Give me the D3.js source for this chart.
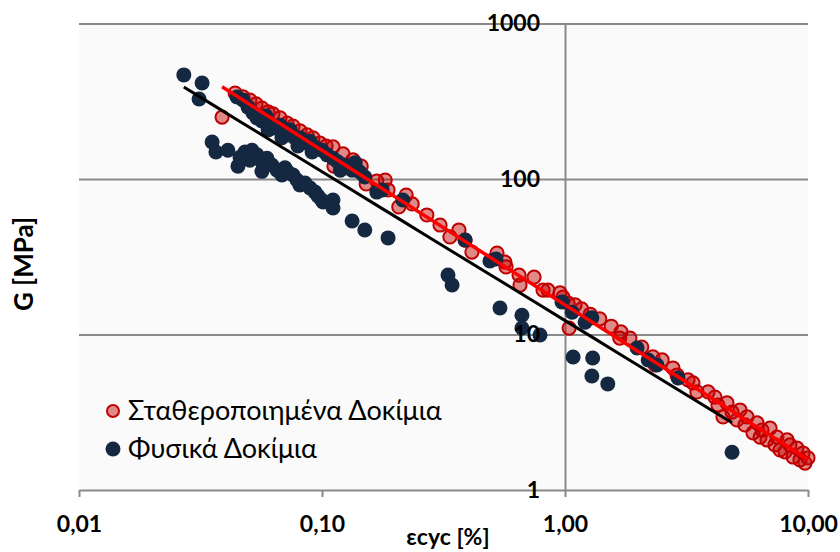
<!DOCTYPE html>
<html>
<head>
<meta charset="utf-8">
<script src="https://cdn.jsdelivr.net/npm/d3@7"></script>
<style>
  html, body { margin: 0; padding: 0; background: #ffffff; }
  svg { display: block; }
  text { font-family: Lato, "Noto Sans", sans-serif; fill: #000; }
</style>
</head>
<body>
<svg id="chart" width="840" height="552"></svg>
<script>
// Axis ticks
const xTicks = [0.01, 0.1, 1, 10];
const xTickLabels = ["0,01", "0,10", "1,00", "10,00"];
const yTicks = [1, 10, 100, 1000];
const yTickLabels = ["1", "10", "100", "1000"];

// Series names
const seriesNames = ["Σταθεροποιημένα Δοκίμια", "Φυσικά Δοκίμια"];

// Stabilised specimens: cyclic strain εcyc [%] and shear modulus G [MPa]
const stabStrain = [
  0.0388, 0.0439, 0.0473, 0.0505, 0.0535, 0.0566, 0.0600, 0.0628, 0.0672, 0.0718,
  0.0760, 0.0812, 0.0868, 0.0918, 0.0981, 0.104, 0.111, 0.122, 0.112, 0.134,
  0.145, 0.152, 0.168, 0.182, 0.187, 0.222, 0.207, 0.235, 0.270, 0.336,
  0.366, 0.414, 0.525, 0.572, 0.647, 0.653, 0.746, 0.812, 0.851, 0.981,
  1.03, 1.04, 1.17, 1.39, 1.55, 1.70, 1.85, 2.07, 2.30, 2.51,
  2.78, 2.89, 3.36, 3.49, 3.88, 4.14, 4.64, 4.47, 5.25, 5.10,
  5.61, 5.94, 6.17, 6.35, 6.78, 6.98, 7.45, 7.67, 8.20, 8.68,
  9.01, 9.54, 9.72, 4.26, 4.87, 5.50, 6.47, 7.31, 8.04, 9.27,
  10.0, 8.43, 3.21, 2.35, 1.27, 1.68, 0.954, 1.10, 0.566, 0.306,
  0.388
];
const stabG = [
  250, 357, 337, 322, 304, 286, 270, 262, 247, 229,
  219, 204, 192, 184, 170, 163, 161, 145, 121, 133,
  121, 92.9, 97.1, 98.5, 85.0, 78.9, 66.1, 69.1, 58.7, 42.4,
  47.0, 33.9, 33.4, 27.2, 24.1, 20.8, 23.4, 19.3, 19.3, 17.4,
  15.9, 11.0, 14.6, 12.6, 11.3, 10.4, 9.49, 8.31, 7.17, 6.86,
  6.09, 5.49, 4.88, 4.27, 4.27, 3.96, 3.63, 2.95, 3.27, 2.82,
  2.95, 2.33, 2.70, 2.19, 2.10, 2.50, 2.19, 1.81, 2.10, 1.63,
  1.86, 1.73, 1.49, 3.52, 3.17, 2.62, 2.43, 1.95, 1.76, 1.56,
  1.61, 1.95, 5.10, 6.37, 13.5, 9.49, 18.5, 15.5, 29.2, 50.6,
  40.5
];

// Natural specimens: cyclic strain εcyc [%] and shear modulus G [MPa]
const natStrain = [
  0.0270, 0.0321, 0.0312, 0.0353, 0.0366, 0.0410, 0.0451, 0.0482, 0.0540, 0.0566,
  0.0622, 0.0684, 0.0760, 0.0811, 0.0893, 0.101, 0.111, 0.111, 0.133, 0.150,
  0.187, 0.0505, 0.0594, 0.0653, 0.0724, 0.0851, 0.0936, 0.0515, 0.0997,
  0.0460, 0.0566, 0.0704, 0.0789, 0.0963,
  0.0447, 0.0473, 0.0496, 0.0520, 0.0540, 0.0566, 0.0588, 0.0611, 0.0641, 0.0671,
  0.0704, 0.0738, 0.0767, 0.0811, 0.0851, 0.0893, 0.0945, 0.100, 0.105, 0.111,
  0.116, 0.124, 0.133, 0.143, 0.150, 0.168, 0.177, 0.0600, 0.0684, 0.0796,
  0.0910, 0.119, 0.137,
  0.215, 0.388, 0.330, 0.343, 0.491, 0.520, 0.540, 0.665, 0.665, 0.789,
  0.972, 1.07, 1.21, 1.29, 1.08, 1.30, 1.29, 1.50, 1.98, 2.20,
  2.39, 2.92, 4.87
];
const natG = [
  467, 414, 327, 173, 149, 153, 121, 149, 143, 112,
  123, 106, 106, 91.5, 87.5, 71.1, 65.1, 73.3, 53.7, 47.0,
  41.8, 132, 136, 114, 111, 94.2, 82.4, 153, 73.3,
  138, 129, 118, 98.5, 77.7,
  337, 322, 290, 266, 247, 236, 254, 226, 213, 222,
  200, 207, 186, 184, 171, 175, 158, 153, 143, 136,
  129, 123, 114, 111, 103, 82.4, 85.0, 207, 184, 163,
  149, 114, 127,
  73.3, 40.5, 24.1, 20.8, 29.7, 30.6, 14.8, 13.3, 11.0, 9.93,
  16.2, 13.9, 12.0, 12.8, 7.17, 7.06, 5.41, 4.81, 8.19, 6.86,
  6.37, 5.25, 1.75
];

// Power-law trendlines G = a · ε^b
const stabFit = { a: 15.5, b: -0.994 };
const natFit = { a: 12.3, b: -0.957 };

const svg = d3.select("#chart");
const plot = { left: 79, right: 808, top: 23.5, bottom: 490 };

const x = d3.scaleLog().domain([0.01, 10]).range([plot.left, plot.right]);
const y = d3.scaleLog().domain([1, 1000]).range([plot.bottom, plot.top]);

const gridColor = "#898989";
const tickFont = "bold 23px Lato, 'Noto Sans', sans-serif";

// plot area background
svg.append("rect")
  .attr("x", plot.left).attr("y", plot.top)
  .attr("width", plot.right - plot.left)
  .attr("height", plot.bottom - plot.top)
  .attr("fill", "#fafafa");

// horizontal gridlines
const grid = svg.append("g")
  .attr("transform", `translate(${plot.left},0)`)
  .call(d3.axisLeft(y).tickValues([10, 100, 1000])
    .tickSize(-(plot.right - plot.left)).tickFormat(""));
grid.select(".domain").remove();
grid.selectAll(".tick line").attr("stroke", gridColor).attr("stroke-width", 2);

// vertical axis line, crossing at ε = 1
const yAxisLine = svg.append("g")
  .attr("transform", `translate(${x(1)},0)`)
  .call(d3.axisLeft(y).tickValues([]).tickSize(0).tickSizeOuter(0));
yAxisLine.select(".domain").attr("stroke", gridColor).attr("stroke-width", 2);

// horizontal axis
const xAxis = svg.append("g")
  .attr("transform", `translate(0,${plot.bottom})`)
  .call(d3.axisBottom(x).tickValues(xTicks)
    .tickFormat((d, i) => xTickLabels[i])
    .tickSize(7).tickSizeOuter(0).tickPadding(19));
xAxis.select(".domain").attr("stroke", gridColor).attr("stroke-width", 2);
xAxis.selectAll(".tick line").attr("stroke", gridColor).attr("stroke-width", 2);
xAxis.selectAll(".tick text").style("font", tickFont).attr("fill", "#000");

// stabilised specimens
const stabData = stabStrain.map((e, i) => ({ e, g: stabG[i] }));
svg.append("g").selectAll("circle")
  .data(stabData).join("circle")
  .attr("cx", d => x(d.e)).attr("cy", d => y(d.g)).attr("r", 6.6)
  .attr("fill", "#c00000").attr("fill-opacity", 0.45)
  .attr("stroke", "#c00000").attr("stroke-width", 2);

// natural specimens
const natData = natStrain.map((e, i) => ({ e, g: natG[i] }));
svg.append("g").selectAll("circle")
  .data(natData).join("circle")
  .attr("cx", d => x(d.e)).attr("cy", d => y(d.g)).attr("r", 7.5)
  .attr("fill", "#142841");

// trendlines over each series' strain range
function fitLine(strain, fit) {
  const [lo, hi] = d3.extent(strain);
  const pts = d3.range(0, 21).map(k => {
    const e = Math.pow(10, Math.log10(lo) + (Math.log10(hi) - Math.log10(lo)) * k / 20);
    return [e, fit.a * Math.pow(e, fit.b)];
  });
  return d3.line().x(p => x(p[0])).y(p => y(p[1]))(pts);
}
svg.append("path").attr("d", fitLine(stabStrain, stabFit))
  .attr("fill", "none").attr("stroke", "#ff0000").attr("stroke-width", 3.5);
svg.append("path").attr("d", fitLine(natStrain, natFit))
  .attr("fill", "none").attr("stroke", "#000000").attr("stroke-width", 3);

// vertical axis labels, drawn above the markers
const yAxis = svg.append("g")
  .attr("transform", `translate(${x(1)},0)`)
  .call(d3.axisLeft(y).tickValues(yTicks)
    .tickFormat((d, i) => yTickLabels[i])
    .tickSize(0).tickSizeOuter(0).tickPadding(25));
yAxis.select(".domain").remove();
yAxis.selectAll(".tick text").style("font", tickFont).attr("fill", "#000");

// axis titles
svg.append("text")
  .attr("transform", "translate(33,264) rotate(-90)")
  .attr("text-anchor", "middle")
  .style("font", "bold 26px Lato, 'Noto Sans', sans-serif")
  .text("G [MPa]");
svg.append("text")
  .attr("x", 448).attr("y", 545)
  .attr("text-anchor", "middle")
  .style("font", "bold 23px Lato, 'Noto Sans', sans-serif")
  .text("εcyc [%]");

// legend
const legend = svg.append("g");
const legendRows = [
  { name: seriesNames[0], fill: "#c00000", opacity: 0.45, stroke: "#c00000", r: 6, cy: 411 },
  { name: seriesNames[1], fill: "#142841", opacity: 1, stroke: "none", r: 7.5, cy: 449 }
];
legendRows.forEach(row => {
  legend.append("circle")
    .attr("cx", 113).attr("cy", row.cy).attr("r", row.r)
    .attr("fill", row.fill).attr("fill-opacity", row.opacity)
    .attr("stroke", row.stroke).attr("stroke-width", 2);
  legend.append("text")
    .attr("x", 128).attr("y", row.cy).attr("dy", "0.35em")
    .style("font", "27px Lato, 'Noto Sans', sans-serif")
    .text(row.name);
});
</script>
</body>
</html>
